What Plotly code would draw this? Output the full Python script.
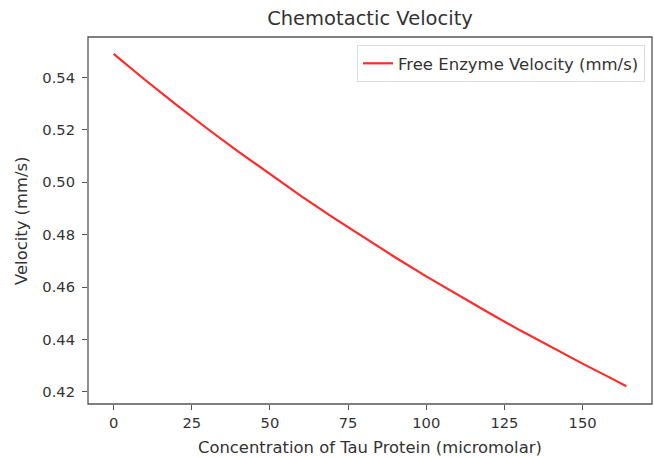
import plotly.graph_objects as go

# Concentration of Tau Protein (micromolar)
concentration = [0, 10, 20, 30, 40, 50, 60, 70, 80, 90, 100, 110, 120, 130, 140, 150, 160, 164]
# Free Enzyme Velocity (mm/s)
velocity = [0.5490, 0.5391, 0.5296, 0.5204, 0.5116, 0.5030, 0.4947, 0.4867, 0.4789,
            0.4714, 0.4641, 0.4570, 0.4502, 0.4435, 0.4370, 0.4308, 0.4247, 0.4222]

x_ticks = [0, 25, 50, 75, 100, 125, 150]
y_ticks = [0.42, 0.44, 0.46, 0.48, 0.50, 0.52, 0.54]

FONT = "DejaVu Sans"
TXT = "#333333"
AX = "#555555"

fig = go.Figure()
fig.add_trace(go.Scatter(
    x=concentration, y=velocity, mode="lines",
    line=dict(color="#ff2a2a", width=2.2),
    name="Free Enzyme Velocity (mm/s)",
))

fig.update_layout(
    width=654, height=458,
    margin=dict(l=88, r=2, t=37, b=54),
    paper_bgcolor="white", plot_bgcolor="white",
    font=dict(family=FONT, size=16, color=TXT),
    title=dict(text="Chemotactic Velocity", x=0.5, xref="paper", xanchor="center",
               y=1, yref="container", yanchor="top", pad=dict(t=11),
               font=dict(family=FONT, size=19.5, color=TXT)),
    showlegend=True,
    legend=dict(x=0.9876, y=0.978, xanchor="right", yanchor="top",
                bgcolor="rgba(255,255,255,0.9)", bordercolor="#dddddd", borderwidth=1,
                font=dict(family=FONT, size=16.5, color=TXT)),
    shapes=[dict(type="rect", xref="paper", yref="paper", x0=0, x1=1, y0=0, y1=1,
                 line=dict(color=AX, width=1.3), fillcolor="rgba(0,0,0,0)", layer="above")],
    annotations=[
        dict(text="Velocity (mm/s)", xref="paper", yref="paper", x=-0.118, y=0.5,
             xanchor="center", yanchor="middle", textangle=-90, showarrow=False,
             font=dict(family=FONT, size=16.4, color=TXT)),
        dict(text="Concentration of Tau Protein (micromolar)", xref="paper", yref="paper",
             x=0.5, y=-0.118, xanchor="center", yanchor="middle", showarrow=False,
             font=dict(family=FONT, size=16.4, color=TXT)),
    ],
)
fig.update_xaxes(
    range=[-8.2, 172.2], tickvals=x_ticks, ticktext=[str(v) for v in x_ticks],
    showgrid=False, zeroline=False, showline=False,
    ticks="outside", ticklen=5, tickcolor=AX, tickwidth=1.2, automargin=False,
    tickfont=dict(family=FONT, size=14.7, color=TXT),
)
fig.update_yaxes(
    range=[0.4154, 0.5554], tickvals=y_ticks, ticktext=[f"{v:.2f}" for v in y_ticks],
    showgrid=False, zeroline=False, showline=False,
    ticks="outside", ticklen=5, tickcolor=AX, tickwidth=1.2, automargin=False,
    ticklabelstandoff=4,
    tickfont=dict(family=FONT, size=14.7, color=TXT),
)

fig.write_html("out.html")
